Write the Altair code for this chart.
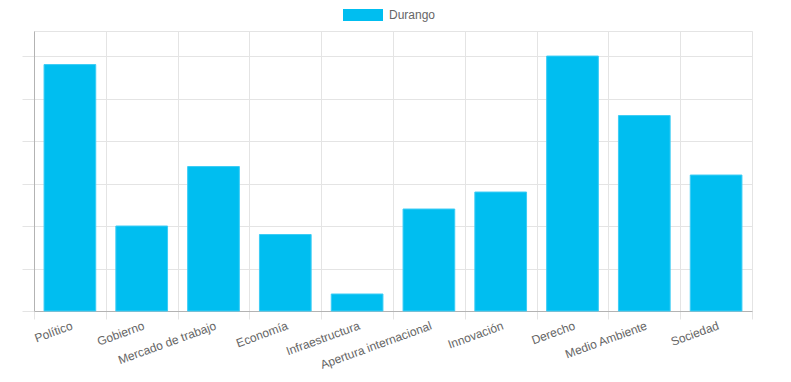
import altair as alt
import pandas as pd

categories = ["Político", "Gobierno", "Mercado de trabajo", "Economía", "Infraestructura",
              "Apertura internacional", "Innovación", "Derecho", "Medio Ambiente", "Sociedad"]
values = [5.8, 2.0, 3.4, 1.8, 0.4, 2.4, 2.8, 6.0, 4.6, 3.2]
series = "Durango"
y_ticks = [0, 1, 2, 3, 4, 5, 6]
y_max = 6.59

df = pd.DataFrame({"categoria": categories, "valor": values, "serie": [series] * len(categories)})

GRID = "#e4e4e4"
AXIS = "#b3b3b3"
TEXT = "#666666"
FONT = "Liberation Sans"

bars = alt.Chart(df).mark_bar(
    width=alt.RelativeBandSize(0.72), stroke="#3cccf5", strokeWidth=1
).encode(
    x=alt.X("categoria:N", sort=categories, title=None,
            scale=alt.Scale(paddingInner=0, paddingOuter=0),
            axis=alt.Axis(tickBand="extent", grid=True, gridColor=GRID, ticks=True,
                          tickSize=8, tickColor=GRID, domainColor=AXIS,
                          labelAngle=-20, labelAlign="right", labelBaseline="top",
                          labelPadding=1, labelFontSize=12, labelColor=TEXT,
                          labelFont=FONT, labelOverlap=False)),
    y=alt.Y("valor:Q", title=None, scale=alt.Scale(domain=[0, y_max], nice=False),
            axis=alt.Axis(values=y_ticks, labels=False, grid=True, gridColor=GRID,
                          ticks=True, tickSize=12, tickColor=GRID, domainColor=AXIS)),
    color=alt.Color("serie:N", title=None,
                    scale=alt.Scale(domain=[series], range=["#00bef0"]),
                    legend=alt.Legend(orient="none", legendX=309, legendY=-36,
                                      symbolType="M-1,-0.3H1V0.3H-1Z", symbolSize=1600,
                                      symbolStrokeWidth=0, labelFontSize=12,
                                      labelColor=TEXT, labelFont=FONT, labelOffset=6)),
)

chart = bars.properties(
    width=718, height=280,
    autosize=alt.AutoSizeParams(type="none"),
    padding={"left": 26, "top": 23, "right": 20, "bottom": 60},
).configure_view(stroke=GRID)

chart.save("out.html", embed_options={"renderer": "svg", "actions": False})
